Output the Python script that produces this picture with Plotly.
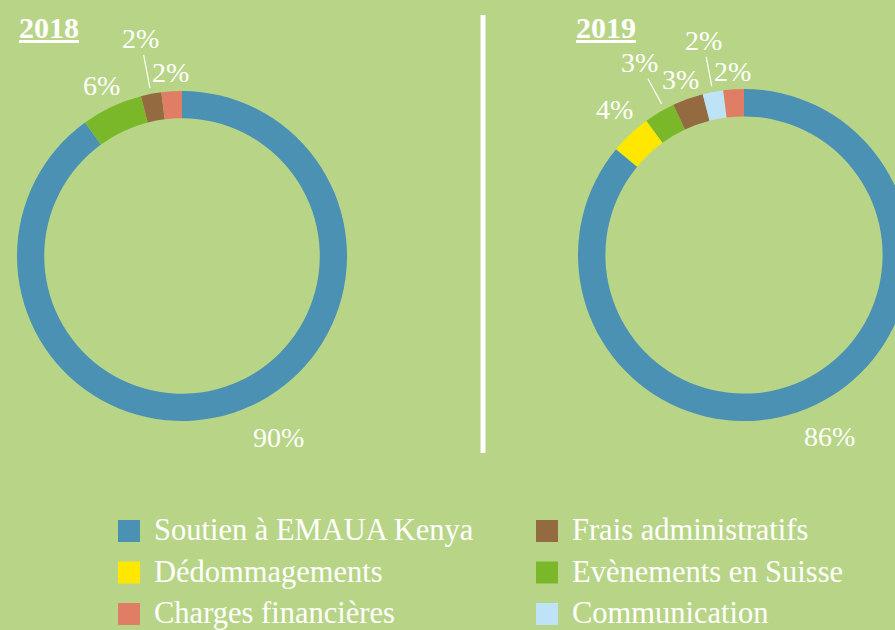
import math
import plotly.graph_objects as go

# ---------------- data ----------------
years = ["2018", "2019"]
legend_order = ["Soutien à EMAUA Kenya", "Frais administratifs",
                "Dédommagements", "Evènements en Suisse",
                "Charges financières", "Communication"]

# slices listed clockwise from 12 o'clock
labels_2018 = ["Soutien à EMAUA Kenya", "Evènements en Suisse",
               "Frais administratifs", "Charges financières"]
values_2018 = [90, 6, 2, 2]

labels_2019 = ["Soutien à EMAUA Kenya", "Dédommagements", "Evènements en Suisse",
               "Frais administratifs", "Communication", "Charges financières"]
values_2019 = [86, 4, 3, 3, 2, 2]

# ---------------- style ----------------
W, H = 915, 630
BG = "#b8d587"
FONT = "Liberation Serif"
colors = {
    "Soutien à EMAUA Kenya": "#4a91b3",
    "Dédommagements": "#ffe700",
    "Charges financières": "#e07e65",
    "Frais administratifs": "#946b40",
    "Evènements en Suisse": "#7ab829",
    "Communication": "#bee3f6",
}
# donut geometry (pixels)
donuts = [
    dict(cx=182, cy=256, R=165),
    dict(cx=744, cy=255, R=166),
]
HOLE = 0.835
# label placement per slice: radius from centre, angle nudge (deg), leader line
label_style = [
    dict(r=[206, 188, 221, 184], da=[-10, 0, 0, 0], lead=[False, False, True, False]),
    dict(r=[201, 195, 219, 187, 218, 184], da=[0, 1.5, 2, 0, 0, 0],
         lead=[False, False, True, False, True, False]),
]

fig = go.Figure()

# hidden pixel-coordinate axes for overlays
fig.update_xaxes(range=[0, W], visible=False, fixedrange=True)
fig.update_yaxes(range=[H, 0], visible=False, fixedrange=True)

annotations = []
for k, (labels, values) in enumerate([(labels_2018, values_2018), (labels_2019, values_2019)]):
    g = donuts[k]
    cx, cy, R = g["cx"], g["cy"], g["R"]
    fig.add_trace(go.Pie(
        labels=labels, values=values, sort=False, direction="clockwise",
        rotation=0, hole=HOLE, textinfo="none", hoverinfo="skip",
        marker=dict(colors=[colors[l] for l in labels], line=dict(width=0)),
        showlegend=False,
        domain=dict(x=[(cx - R) / W, (cx + R) / W],
                    y=[(H - cy - R) / H, (H - cy + R) / H]),
    ))
    total = sum(values)
    cum = 0
    st = label_style[k]
    for i, v in enumerate(values):
        mid = (cum + v / 2) / total * 360 + st["da"][i]
        cum += v
        a = math.radians(mid)
        r = st["r"][i]
        tx = cx + r * math.sin(a)
        ty = cy - r * math.cos(a)
        txt = f"{round(v / total * 100)}%"
        if st["lead"][i]:
            r0 = R + 6
            px = cx + r0 * math.sin(a)
            py = cy - r0 * math.cos(a)
            annotations.append(dict(
                x=px, y=py, xref="x", yref="y", text=txt, showarrow=True,
                ax=tx - px, ay=ty - py, axref="pixel", ayref="pixel",
                arrowhead=0, arrowwidth=1.2, arrowcolor="white", standoff=0,
                borderpad=0, font=dict(family=FONT, size=28, color="white")))
        else:
            annotations.append(dict(
                x=tx, y=ty, xref="x", yref="y", text=txt, showarrow=False,
                xanchor="center", yanchor="middle",
                font=dict(family=FONT, size=28, color="white")))
    # year title
    annotations.append(dict(
        x=cx - R + (0 if k == 0 else -4), y=27, xref="x", yref="y",
        text=f"<b><span style='text-decoration:underline'>{years[k]}</span></b>",
        showarrow=False, xanchor="left", yanchor="middle",
        font=dict(family=FONT, size=30, color="white")))

# legend drawn as scatter in pixel coords (2 columns x 3 rows)
col_x = [129, 547]
row_y0, row_dy = 531, 41.5
lx = [col_x[i % 2] for i in range(len(legend_order))]
ly = [row_y0 + (i // 2) * row_dy for i in range(len(legend_order))]
fig.add_trace(go.Scatter(
    x=lx, y=ly, mode="markers", hoverinfo="skip", showlegend=False,
    marker=dict(symbol="square", size=22, color=[colors[c] for c in legend_order],
                line=dict(width=0))))
fig.add_trace(go.Scatter(
    x=[x + 25 for x in lx], y=[y + 1.5 for y in ly], mode="text", text=legend_order,
    textposition="middle right", hoverinfo="skip", showlegend=False,
    textfont=dict(family=FONT, size=30.5, color="white")))

# white separator
fig.add_shape(type="line", x0=483, x1=483, y0=15, y1=453, xref="x", yref="y",
              line=dict(color="white", width=5))

fig.update_layout(
    width=W, height=H, margin=dict(l=0, r=0, t=0, b=0),
    paper_bgcolor=BG, plot_bgcolor=BG, annotations=annotations,
    font=dict(family=FONT, color="white"),
)

fig.write_html("out.html", config={"displayModeBar": False},
               post_script="document.documentElement.style.overflow='hidden';"
                           "document.body.style.overflow='hidden';"
                           "document.body.style.margin='0';")
